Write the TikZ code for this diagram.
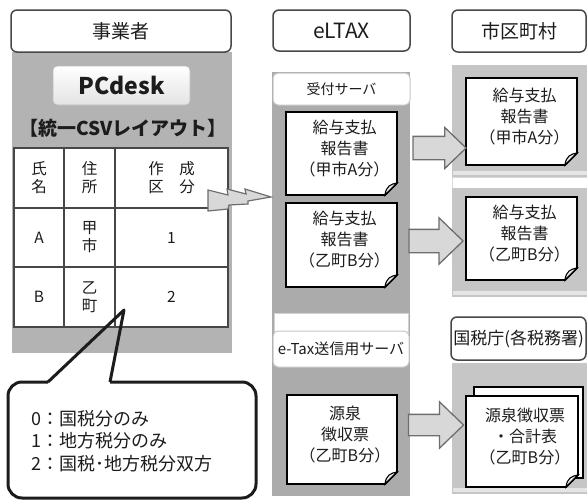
\documentclass[tikz,border=0pt]{standalone}
\usepackage{fontspec}
\setmainfont{Noto Sans CJK JP}
\usetikzlibrary{shapes.arrows}

\definecolor{panelL}{HTML}{B3B3B3}
\definecolor{panelM}{HTML}{ABABAB}
\definecolor{panelR}{HTML}{C6C6C6}
\definecolor{ink}{HTML}{1C1C1C}
\definecolor{rim}{HTML}{474747}
\definecolor{arrfill}{HTML}{D8D8D8}
\definecolor{arrrim}{HTML}{6E6E6E}

\newcommand{\fsz}[2]{\fontsize{#1}{#2}\selectfont}

% sheet with turned corner: name, x1, y1, x2, y2, text
\newcommand{\drawdoc}[6]{
    \draw[line width=1.8pt, fill=white] (#2,#3) -- (#4,#3) -- (#4,#5-12) -- (#4-12,#5) -- (#2,#5) -- cycle;
    \draw[line width=1.1pt, fill=gray!15] (#4,#5-12) -- (#4-12,#5) .. controls (#4-11,#5-9) and (#4-6,#5-11) .. cycle;
    \node[doctext] (#1) at ({(#2+#4)/2+3},{(#3+#5)/2-5}) {#6};
}
\newcommand{\lightpanel}[4]{
    \fill[panelR] (#1,#2) rectangle (#3,#4);
    \fill[white,opacity=0.55] (#1+1,#4-6) rectangle (#3,#4-2);
}

\tikzset{
    hdr/.style={draw=rim, line width=1.5pt, rounded corners=6pt, fill=white, inner sep=0pt, text=ink, font=\fsz{19}{22}},
    subhdr/.style={draw=gray!45, line width=1pt, rounded corners=5pt, fill=white, inner sep=0pt, text=ink},
    cell/.style={align=center, text=ink, font=\fsz{15.5}{18}},
    doctext/.style={align=center, text=ink, font=\fsz{16}{21}},
    blockarr/.style={single arrow, draw=arrrim, fill=arrfill, line width=1.3pt, inner xsep=0pt, inner ysep=11pt,
        single arrow head extend=9pt, single arrow tip angle=88},
    bolt/.style={draw=arrrim, fill=arrfill, line width=1.2pt, line join=miter},
    callout/.style={draw=ink, line width=3pt}
}

\begin{document}
\begin{tikzpicture}[x=1pt,y=-1pt]
\useasboundingbox (0,0) rectangle (587,501);

% panels
\fill[panelL] (12,52) rectangle (232,353);
\fill[panelM] (272,72) rectangle (410,313);
\fill[panelM] (272,313) rectangle (410,496);
\filldraw[fill=white, draw=gray!35, line width=0.8pt] (274,313) rectangle (408,349);
\lightpanel{452}{65}{590}{177}
\filldraw[fill=white, draw=gray!30, line width=0.8pt] (452,177) rectangle (590,188);
\lightpanel{452}{188}{590}{297}
\lightpanel{452}{363}{590}{494}

% column headers
\node[hdr, minimum width=220pt, minimum height=42pt] (biz) at (121,31) {事業者};
\node[hdr, minimum width=137pt, minimum height=41pt, font=\fsz{21}{24}] (eltax) at (341.5,30.5) {eLTAX};
\node[hdr, minimum width=134pt, minimum height=42pt] (city) at (519,31) {市区町村};
\node[hdr, minimum width=135pt, minimum height=43pt, font=\fsz{17}{20}] (nta) at (518.5,338.5) {国税庁(各税務署)};

\node[subhdr, minimum width=137pt, minimum height=32pt, font=\fsz{14}{16}] (recv) at (341.5,89) {受付サーバ};
\node[subhdr, minimum width=136pt, minimum height=36pt, font=\fsz{15}{17}] (etax) at (341,349) {e-Tax送信用サーバ};

% left side
\node[draw=gray!55, line width=0.8pt, rounded corners=4pt, top color=white, bottom color=gray!22,
    minimum width=137pt, minimum height=39pt, text=ink, font=\fsz{23}{26}\bfseries] (pcdesk) at (121.5,85.5) {PCdesk};
\node[text=ink, font=\fsz{19}{21}\bfseries] (layout) at (123,128) {【統一CSVレイアウト】};

\draw[draw=rim, line width=1.3pt, fill=white] (14,148) rectangle (228,327);
\draw[draw=rim, line width=1.3pt] (64,148) -- (64,327);
\draw[draw=rim, line width=1.3pt] (115,148) -- (115,327);
\draw[draw=rim, line width=1.3pt] (14,208) -- (228,208);
\draw[draw=rim, line width=1.3pt] (14,267) -- (228,267);

\node[cell] (nameH) at (39,178) {氏\\名};
\node[cell] (addrH) at (89.5,178) {住\\所};
\node[cell] (kindH) at (171.5,178) {作　成\\区　分};
\node[cell] (nameA) at (39,237.5) {A};
\node[cell] (addrA) at (89.5,237.5) {甲\\市};
\node[cell] (kindA) at (171.5,237.5) {1};
\node[cell] (nameB) at (39,297) {B};
\node[cell] (addrB) at (89.5,297) {乙\\町};
\node[cell] (kindB) at (171.5,297) {2};

% lightning to eLTAX
\coordinate (boltS) at (208,200);
\coordinate (boltE) at (271,197);
\filldraw[bolt, shift={(boltS)}] (0,-10) -- (20,-5) -- (19,-11) -- (38,-6) -- (37,-11) -- (63,-3)
    -- (40,1) -- (40,4) -- (21,5) -- (20,9) -- (0,11) -- cycle;

% documents
\drawdoc{repA}{286}{112}{397}{195}{給与支払\\報告書\\（甲市A分）}
\drawdoc{repB}{286}{203}{397}{287}{給与支払\\報告書\\（乙町B分）}
\drawdoc{cityA}{466}{78}{577}{165}{給与支払\\報告書\\（甲市A分）}
\drawdoc{cityB}{466}{197}{577}{280}{給与支払\\報告書\\（乙町B分）}
\drawdoc{slip}{287}{395}{397}{484}{源泉\\徴収票\\（乙町B分）}
\draw[line width=1.8pt, fill=white] (474,387) rectangle (583,478);
\drawdoc{ntaDoc}{466}{396}{578}{487}{源泉徴収票\\・合計表\\（乙町B分）}

% block arrows
\node[blockarr, minimum height=53pt] (arrA) at (433.5,148) {};
\node[blockarr, minimum height=54pt, single arrow head extend=11.5pt] (arrB) at (430,241) {};
\node[blockarr, minimum height=55pt, inner ysep=10pt, single arrow head extend=12.5pt] (arrC) at (430.5,425) {};

% code legend
\coordinate (tip) at (124,310);
\draw[callout, rounded corners=14pt] (110,382) -- (256,382) -- (256,498) -- (8,498) -- (8,382) -- (48,382);
\draw[callout, line join=round] (48,382) -- (tip) -- (110,382);
\node[anchor=west, align=left, text=ink, font=\fsz{18}{22.5}] (codes) at (28,441)
    {0：国税分のみ\\1：地方税分のみ\\2：国税･地方税分双方};

\end{tikzpicture}
\end{document}
